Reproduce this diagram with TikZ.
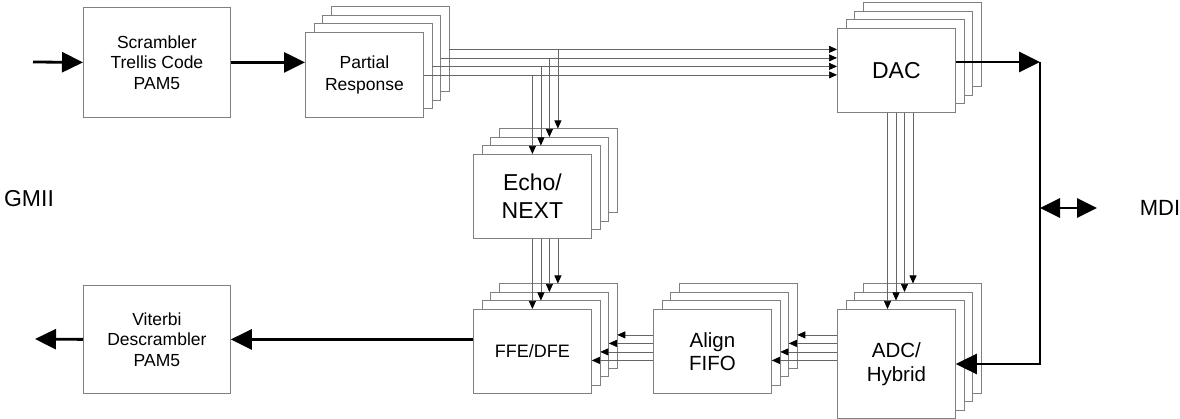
\documentclass[tikz,border=0pt]{standalone}
\usepackage{fontspec}
\setmainfont{Liberation Sans}
\usetikzlibrary{arrows.meta,positioning}

\begin{document}
\begin{tikzpicture}[
  x=1pt, y=-1pt,
  box/.style={draw=black!50,fill=white,line width=0.8pt,anchor=north west,inner sep=0pt,align=center},
  single/.style={box,minimum width=147pt,minimum height=109pt,font=\fontsize{17.5}{20.5}\selectfont},
  card/.style={box,minimum width=118pt,minimum height=84pt},
  sig/.style={draw=black!60,line width=0.7pt,-{Triangle[length=8pt,width=7pt,color=black]}},
  bus/.style={line width=2.8pt,-{Triangle[length=21pt,width=20pt]}},
  lbl/.style={font=\fontsize{23}{27}\selectfont}
]
  \useasboundingbox (0,0) rectangle (1180,419);

  % transmit side
  \node[single,minimum height=110pt] (scr) at (83,7) {Scrambler\\Trellis Code\\PAM5};
  \foreach \i in {3,2,1}
    \node[card,minimum height=85pt] (pr\i) at (305+8.5*\i,32-8.5*\i) {};
  \node[card,minimum height=85pt,font=\fontsize{17.5}{21.5}\selectfont] (pr0) at (305,32) {Partial\\Response};
  \foreach \i in {3,2,1}
    \node[card] (dac\i) at (837+8.5*\i,28-8.5*\i) {};
  \node[card,font=\fontsize{23}{27}\selectfont] (dac0) at (837,28) {DAC};

  % echo canceller
  \foreach \i in {3,2,1}
    \node[card] (echo\i) at (473+8.5*\i,154-8.5*\i) {};
  \node[card,font=\fontsize{23}{28}\selectfont] (echo0) at (473,154) {Echo/\\NEXT};

  % receive side
  \node[single,minimum height=108pt] (vit) at (83,285) {Viterbi\\Descrambler\\PAM5};
  \foreach \i in {3,2,1}
    \node[card] (ffe\i) at (473+8.5*\i,309-8.5*\i) {};
  \node[card,font=\fontsize{18}{21}\selectfont] (ffe0) at (473,309) {FFE/DFE};
  \foreach \i in {3,2,1}
    \node[card] (align\i) at (653+8.5*\i,309-8.5*\i) {};
  \node[card,font=\fontsize{20.5}{23}\selectfont] (align0) at (653,309) {Align\\FIFO};
  \foreach \i in {3,2,1}
    \node[card,minimum height=109pt] (adc\i) at (837+8.5*\i,309-8.5*\i) {};
  \node[card,minimum height=109pt,font=\fontsize{20.5}{24}\selectfont] (adc0) at (837,309) {ADC/\\Hybrid};

  \node[lbl] (gmii) at (29,199) {GMII};
  \node[lbl,font=\fontsize{22}{26}\selectfont] (mdi) at (1160,208) {MDI};

  % per-pair wires
  \foreach \i in {0,...,3} {
    \coordinate (dn\i) at ([xshift=50.5pt]adc\i.north west);
    \coordinate (fin\i) at ([yshift=-9pt]ffe\i.east);
    \coordinate (ain\i) at ([yshift=-9pt]align\i.east);
    \draw[sig] (pr\i.east) -- (pr\i.east -| dac0.west);
    \draw[sig] (echo\i.north |- pr\i.east) -- (echo\i.north);
    \draw[sig] (ffe\i.north |- echo0.south) -- (ffe\i.north);
    \draw[sig] (dn\i |- dac0.south) -- (dn\i);
    \draw[sig] (fin\i -| align0.west) -- (fin\i);
    \draw[sig] (ain\i -| adc0.west) -- (ain\i);
  }

  % line interface
  \coordinate (gin) at (33,62);
  \coordinate (gout) at (35,339);
  \coordinate (jtop) at (1040,62);
  \coordinate (jmid) at (1040,208);
  \coordinate (jbot) at (1040,364);
  \coordinate (mdiend) at (1097,208);
  \draw[bus] (gin) -- (scr.west);
  \draw[bus] (scr.east) -- (scr.east -| pr0.west);
  \draw[bus] (dac0.east |- jtop) -- (jtop);
  \draw[bus] (jtop) -- (jbot) -- (jbot -| adc0.east);
  \draw[bus,{Triangle[length=20pt,width=19pt]}-{Triangle[length=20pt,width=19pt]}] (jmid) -- (mdiend);
  \draw[bus] (vit.east -| ffe0.west) -- (vit.east);
  \draw[bus] (vit.west) -- (gout);
\end{tikzpicture}
\end{document}
